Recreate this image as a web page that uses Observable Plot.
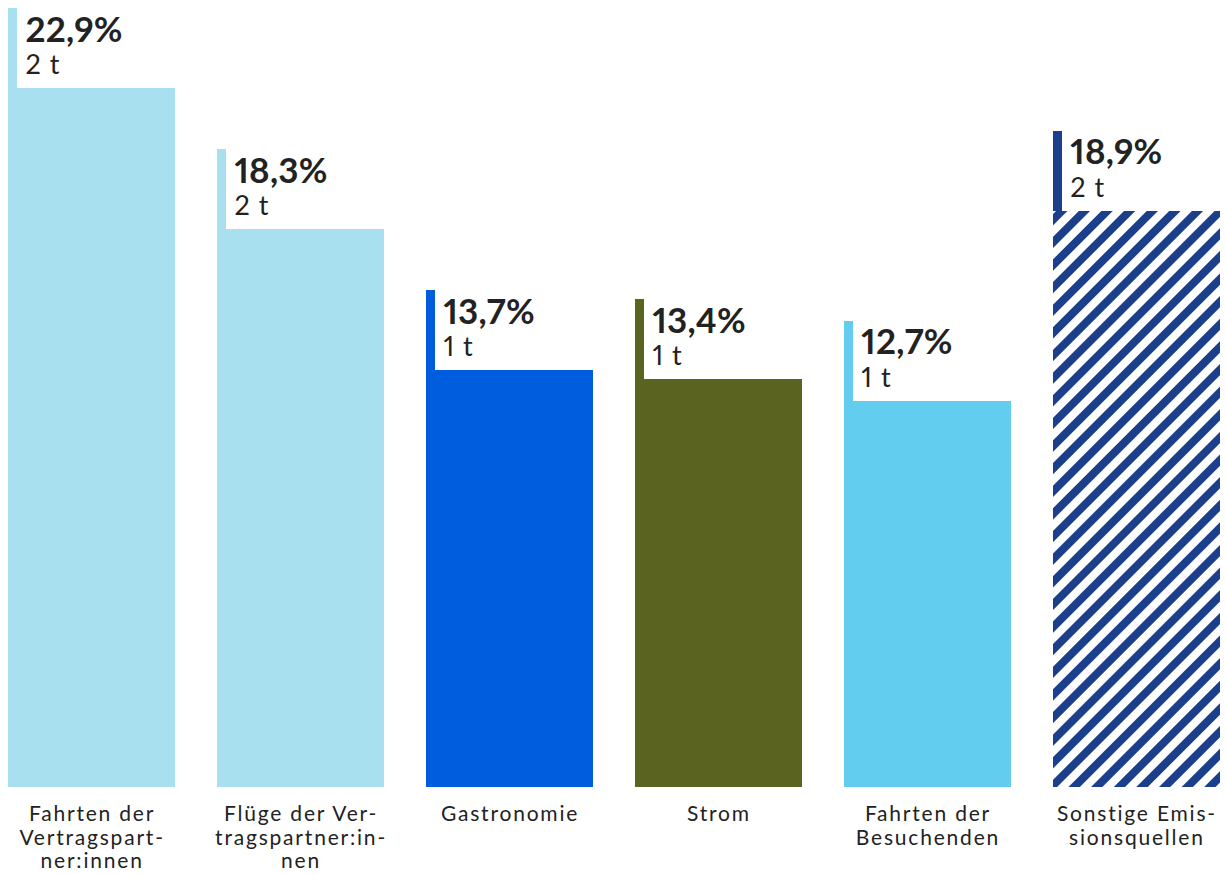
<!DOCTYPE html>
<html><head><meta charset="utf-8">
<script src="https://cdn.jsdelivr.net/npm/d3@7"></script>
<script src="https://cdn.jsdelivr.net/npm/@observablehq/plot@0.6"></script>
<style>
body{margin:0;background:#fff;font-family:Lato,sans-serif}
svg{display:block}
svg text{font-variant-numeric:proportional-nums}
</style>
</head><body><div id="chart"></div>
<script>
const categories = ["Fahrten der Vertragspartner:innen","Flüge der Vertragspartner:innen","Gastronomie","Strom","Fahrten der Besuchenden","Sonstige Emissionsquellen"];
const axisLabels = ["Fahrten der\nVertragspart-\nner:innen","Flüge der Ver-\ntragspartner:in-\nnen","Gastronomie","Strom","Fahrten der\nBesuchenden","Sonstige Emis-\nsionsquellen"];
const shares = [22.9, 18.3, 13.7, 13.4, 12.7, 18.9];
const tonnes = [2, 2, 1, 1, 1, 2];
const barColors = ["#a8e0f0","#a8e0f0","#005ddd","#5a6420","#63cdf0","url(#hatch)"];
const accentColors = ["#a8e0f0","#a8e0f0","#005ddd","#5a6420","#63cdf0","#1b3f8a"];
const yMin = -2.5;

const data = categories.map((c, i) => ({cat: c, label: axisLabels[i], share: shares[i], t: tonnes[i]}));
const fmtPct = v => v.toFixed(1).replace(".", ",") + "%";

const chart = Plot.plot({
  width: 1226,
  height: 875,
  marginTop: 8,
  marginBottom: 88,
  marginLeft: 8,
  marginRight: 6,
  style: {fontFamily: "Lato, sans-serif", background: "#fff"},
  x: {domain: categories, paddingInner: 0.2, paddingOuter: 0, round: false, axis: null},
  y: {domain: [yMin, 22.9], axis: null},
  color: {
    domain: [...categories, ...categories.map(c => c + "|accent")],
    range: [...barColors, ...accentColors]
  },
  marks: [
    Plot.barY(data, {x: "cat", y1: () => yMin, y2: "share", fill: "cat", shapeRendering: "crispEdges"}),
    Plot.barY(data, {x: "cat", y1: "share", y2: "share", insetBottom: -80, fill: d => d.cat + "|accent", shapeRendering: "crispEdges"}),
    Plot.barY(data, {x: "cat", y1: "share", y2: "share", insetBottom: -80, insetLeft: 9, fill: "#fff", shapeRendering: "crispEdges"}),
    Plot.text(data, {x: "cat", y: "share", text: d => fmtPct(d.share), textAnchor: "start", lineAnchor: "bottom", dx: -66.6, dy: 33, fontSize: 35, fontWeight: 700, fill: "#222"}),
    Plot.text(data, {x: "cat", y: "share", text: d => d.t + " t", textAnchor: "start", lineAnchor: "bottom", dx: -66.6, dy: 65.5, fontSize: 27, fill: "#222"}),
    Plot.text(data, {x: "cat", y: () => yMin, text: "label", lineAnchor: "top", dy: 17, fontSize: 21, lineHeight: 1.12, fill: "#222"})
  ]
});
chart.insertAdjacentHTML("afterbegin",
  '<defs><pattern id="hatch" patternUnits="userSpaceOnUse" width="16" height="16" patternTransform="rotate(45)">' +
  '<rect width="16" height="16" fill="#fff"/><rect width="8" height="16" fill="#1b3f8a"/></pattern></defs>');
const spacing = {"21": "1.8px", "27": "1px", "35": "0.2px"};
chart.querySelectorAll("g[font-size]").forEach(g => {
  const s = spacing[g.getAttribute("font-size")];
  if (s) g.querySelectorAll("text").forEach(t => t.style.letterSpacing = s);
});
document.getElementById("chart").append(chart);
</script>
</body></html>
